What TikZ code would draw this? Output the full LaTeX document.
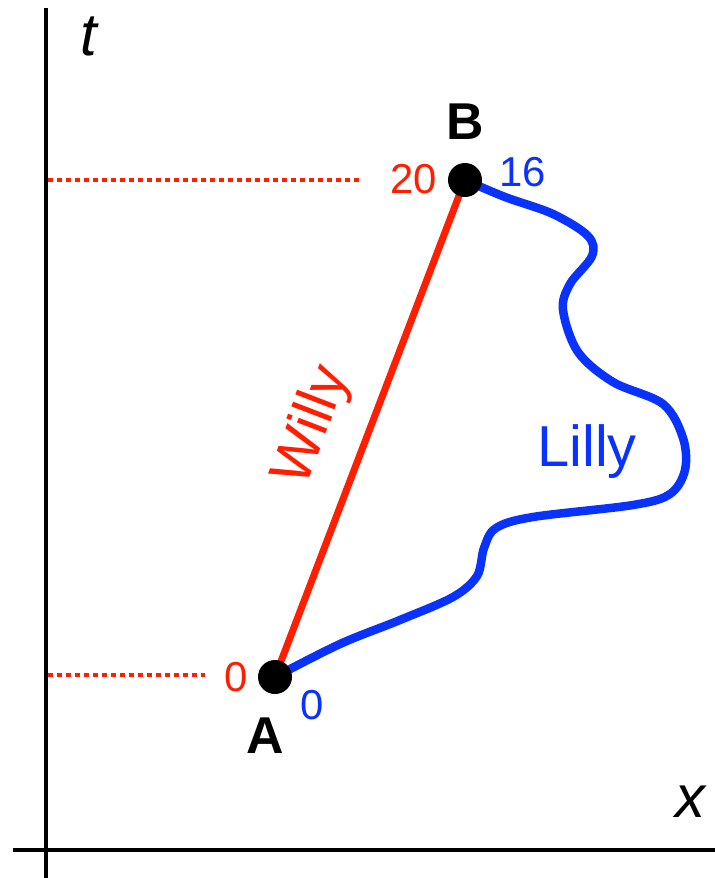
\documentclass[tikz,border=0pt]{standalone}
\usepackage{fontspec}
\setmainfont{Liberation Sans}
\definecolor{wred}{RGB}{255,30,0}
\definecolor{lblue}{RGB}{10,50,255}
\begin{document}
\begin{tikzpicture}[x=1bp,y=-1bp,
  axisline/.style={line width=4.5bp,black},
  guideline/.style={wred,line width=4.5bp,dash pattern=on 4.5bp off 4.5bp},
  eventdot/.style={circle,fill=black,inner sep=0pt,minimum size=34bp},
  numlabel/.style={font=\fontsize{42}{42}\selectfont,inner sep=0pt},
  evlabel/.style={font=\fontsize{52}{52}\selectfont\bfseries,inner sep=0pt},
  axlabel/.style={font=\fontsize{60}{60}\selectfont\itshape,inner sep=0pt},
  walkerlabel/.style={font=\fontsize{58}{58}\selectfont,inner sep=0pt}]
\useasboundingbox (0,0) rectangle (715,878);
% axes
\coordinate (ytop) at (46,8);
\coordinate (ybot) at (46,878);
\coordinate (xl) at (13,850);
\coordinate (xr) at (715,850);
\draw[axisline] (ytop) -- (ybot);
\draw[axisline] (xl) -- (xr);
\node[axlabel] (tlab) at (89,36) {t};
\node[axlabel] (xlab) at (690,802) {x};
% events
\coordinate (A) at (275,677);
\coordinate (B) at (465,180);
% dotted guides
\coordinate (gB) at (48,180);
\coordinate (gBe) at (362,180);
\coordinate (gA) at (48,675);
\coordinate (gAe) at (205,675);
\draw[guideline] (gB) -- (gBe);
\draw[guideline] (gA) -- (gAe);
% Willy
\draw[wred,line width=7bp] (A) -- (B);
% Lilly
\draw[lblue,line width=8.5bp,line cap=round] plot[smooth,tension=0.55] coordinates {
 (465,180) (505,197) (553,214) (588,236) (592,256) (570,284) (563,310)
 (578,352) (613,382) (663,404) (683,438) (685,470) (670,494) (633,505)
 (533,517) (496,528) (484,548) (477,576) (453,597) (400,620) (340,644) (275,677)};
\node[eventdot] (Bdot) at (B) {};
\node[eventdot] (Adot) at (A) {};
% labels
\node[evlabel] (Blab) at (465,122) {B};
\node[evlabel] (Alab) at (265,736) {A};
\node[numlabel,text=wred] (n20) at (414,179) {20};
\node[numlabel,text=lblue] (n16) at (523,172) {16};
\node[numlabel,text=wred] (n0r) at (236,677) {0};
\node[numlabel,text=lblue] (n0b) at (312,705) {0};
\node[walkerlabel,text=wred,rotate=69] (willy) at (313,426) {Willy};
\node[walkerlabel,text=lblue] (lilly) at (587,452) {Lilly};
\end{tikzpicture}
\end{document}
